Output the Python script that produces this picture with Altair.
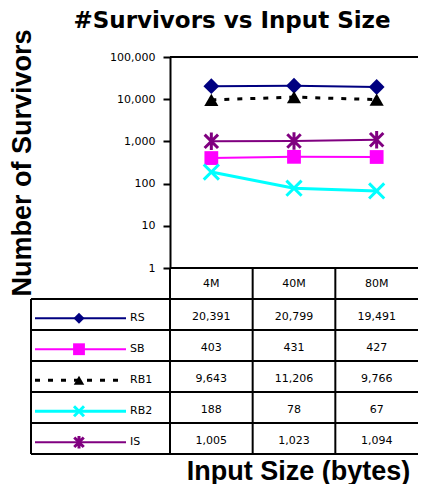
import altair as alt
import pandas as pd

# ---- data ----
sizes = ["4M", "40M", "80M"]
series = ["RS", "SB", "RB1", "RB2", "IS"]
rs_vals = [20391, 20799, 19491]
sb_vals = [403, 431, 427]
rb1_vals = [9643, 11206, 9766]
rb2_vals = [188, 78, 67]
is_vals = [1005, 1023, 1094]
y_ticks = [1, 10, 100, 1000, 10000, 100000]

all_vals = [rs_vals, sb_vals, rb1_vals, rb2_vals, is_vals]

# ---- styles ----
X_PATH = "M-1,-1L1,1M-1,1L1,-1"
AST_PATH = "M-1,-1L1,1M-1,1L1,-1M0,-1.3L0,1.3"
styles = [
    dict(color="#000080", shape="diamond", filled=True, size=250, lsize=120, pw=1, lw=2, dash=None),
    dict(color="#FF00FF", shape="square", filled=True, size=190, lsize=140, pw=1, lw=2, dash=None),
    dict(color="#000000", shape="triangle-up", filled=True, size=200, lsize=110, pw=1, lw=3, dash=[5, 8]),
    dict(color="#00FFFF", shape=X_PATH, filled=False, size=230, lsize=100, pw=3, lw=3, dash=None),
    dict(color="#800080", shape=AST_PATH, filled=False, size=180, lsize=90, pw=3, lw=2, dash=None),
]

W, H = 248, 211
TAB_BOTTOM = 397
U = W / 3.0  # pixels per column unit
LEFT_EDGE = -139 / U
LEG_X1, LEG_X2, LEG_MK, LEG_TXT = -135 / U, -44 / U, -91 / U, -40 / U

xsc = alt.Scale(domain=[0, 3], nice=False, zero=False)
ysc_log = alt.Scale(type="log", domain=[1, 100000], nice=False)
ysc_tab = alt.Scale(domain=[0, 6], range=[H, TAB_BOTTOM], nice=False, zero=False)

xaxis = alt.Axis(labels=False, ticks=False, domain=False, grid=False,
                 title="Input Size (bytes)", titleFont="Liberation Sans",
                 titleFontSize=27, titleFontWeight="bold", titleColor="black",
                 titleBaseline="alphabetic", titleY=211, titleX=W / 2 + 4)
yaxis = alt.Axis(values=y_ticks, format=",d", grid=False,
                 domainColor="black", domainWidth=2,
                 tickColor="black", tickWidth=2, tickSize=7,
                 labelFont="DejaVu Sans", labelFontSize=11, labelColor="black",
                 labelPadding=8,
                 title="Number of Survivors", titleFont="Liberation Sans",
                 titleFontSize=27, titleFontWeight="bold", titleColor="black",
                 titleX=-134, titleY=H / 2, titleBaseline="bottom")

X = lambda f: alt.X(f, scale=xsc, axis=xaxis)
Yl = lambda f: alt.Y(f, scale=ysc_log, axis=yaxis)

# ---- plot layers ----
plot_layers = []
top = pd.DataFrame({"x": [0], "x2": [3], "y": [y_ticks[-1]]})
plot_layers.append(alt.Chart(top).mark_rule(color="black", strokeWidth=2).encode(
    x=X("x:Q"), x2="x2:Q", y=Yl("y:Q")))
for name, vals, st in zip(series, all_vals, styles):
    df = pd.DataFrame({"pos": [0.5, 1.5, 2.5], "value": vals, "size": sizes})
    line_kw = dict(color=st["color"], strokeWidth=st["lw"])
    if st["dash"]:
        line_kw["strokeDash"] = st["dash"]
    plot_layers.append(
        alt.Chart(df).mark_line(**line_kw).encode(x=X("pos:Q"), y=Yl("value:Q")))
    plot_layers.append(
        alt.Chart(df).mark_point(shape=st["shape"], filled=st["filled"], size=st["size"],
                                 color=st["color"], opacity=1, strokeWidth=st["pw"]).encode(
            x=X("pos:Q"), y=Yl("value:Q")))

# ---- table layers ----
Yt = lambda f: alt.Y(f, scale=ysc_tab, axis=None)
table_layers = []

hlines = pd.DataFrame({"x": [0] + [LEFT_EDGE] * 6, "x2": [3] * 7, "y": [0, 1, 2, 3, 4, 5, 6]})
table_layers.append(alt.Chart(hlines).mark_rule(color="black", strokeWidth=2).encode(
    x=X("x:Q"), x2="x2:Q", y=Yt("y:Q")))
vlines = pd.DataFrame({"x": [LEFT_EDGE, 0, 1, 2], "y": [1, 0, 0, 0], "y2": [6] * 4})
table_layers.append(alt.Chart(vlines).mark_rule(color="black", strokeWidth=2).encode(
    x=X("x:Q"), y=Yt("y:Q"), y2="y2:Q"))

header = pd.DataFrame({"pos": [0.5, 1.5, 2.5], "row": [0.5] * 3, "label": sizes})
table_layers.append(alt.Chart(header).mark_text(font="DejaVu Sans", fontSize=11, color="black",
                                                baseline="middle").encode(
    x=X("pos:Q"), y=Yt("row:Q"), text="label:N"))

cells = []
for i, (name, vals) in enumerate(zip(series, all_vals)):
    for j, v in enumerate(vals):
        cells.append({"pos": j + 0.5, "row": i + 1.57, "value": v})
cells = pd.DataFrame(cells)
table_layers.append(alt.Chart(cells).mark_text(font="DejaVu Sans", fontSize=11, color="black",
                                               baseline="middle").encode(
    x=X("pos:Q"), y=Yt("row:Q"), text=alt.Text("value:Q", format=",")))

for i, (name, st) in enumerate(zip(series, styles)):
    r = i + 1.62
    ldf = pd.DataFrame({"x": [LEG_X1], "x2": [LEG_X2], "y": [r]})
    kw = dict(color=st["color"], strokeWidth=st["lw"])
    if st["dash"]:
        kw["strokeDash"] = st["dash"]
    table_layers.append(alt.Chart(ldf).mark_rule(**kw).encode(
        x=X("x:Q"), x2="x2:Q", y=Yt("y:Q")))
    mdf = pd.DataFrame({"x": [LEG_MK], "y": [r]})
    table_layers.append(alt.Chart(mdf).mark_point(shape=st["shape"], filled=st["filled"],
                                                  size=st["lsize"], color=st["color"], opacity=1,
                                                  strokeWidth=st["pw"]).encode(
        x=X("x:Q"), y=Yt("y:Q")))
    tdf = pd.DataFrame({"x": [LEG_TXT], "y": [r], "name": [name]})
    table_layers.append(alt.Chart(tdf).mark_text(font="DejaVu Sans", fontSize=11, color="black",
                                                 align="left", baseline="middle").encode(
        x=X("x:Q"), y=Yt("y:Q"), text="name:N"))

chart = alt.layer(alt.layer(*plot_layers), alt.layer(*table_layers)).resolve_scale(
    y="independent"
).properties(
    width=W, height=H,
    title=alt.TitleParams("#Survivors vs Input Size", font="DejaVu Sans", fontSize=23,
                          fontWeight="bold", color="black", anchor="middle", dx=-62,
                          offset=-4),
    padding={"left": 0, "top": 1, "right": 0, "bottom": 0},
).configure_view(stroke=None)

chart.save("out.html", embed_options={"renderer": "svg", "actions": False})
